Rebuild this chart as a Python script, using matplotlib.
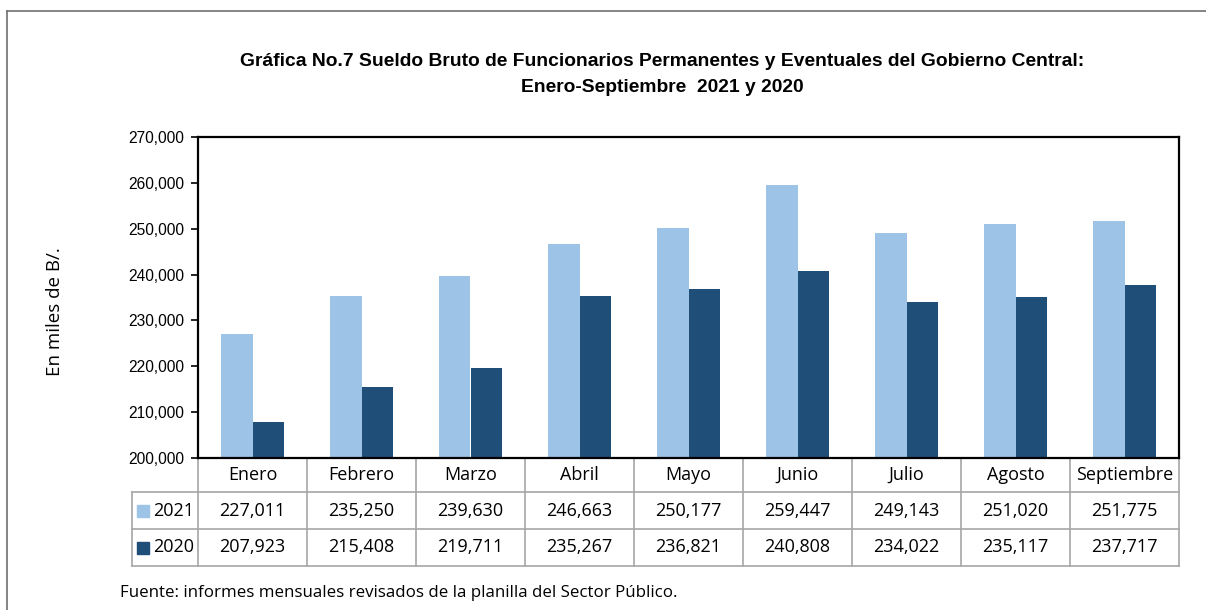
import matplotlib.pyplot as plt
from matplotlib.lines import Line2D
import matplotlib.transforms as mtransforms
from matplotlib.ticker import FuncFormatter

# ---------------- DATA ----------------

meses = ["Enero", "Febrero", "Marzo", "Abril", "Mayo", "Junio",
         "Julio", "Agosto", "Septiembre"]
sueldo_2021 = [227011, 235250, 239630, 246663, 250177, 259447, 249143, 251020, 251775]
sueldo_2020 = [207923, 215408, 219711, 235267, 236821, 240808, 234022, 235117, 237717]
series_labels = ["2021", "2020"]

color_2021 = "#9dc3e6"
color_2020 = "#1f4e79"
grid_color = "#a6a6a6"

title_font = ["Liberation Sans Narrow", "Liberation Sans", "DejaVu Sans"]
axis_font = ["Liberation Sans", "DejaVu Sans"]
table_font = ["Open Sans", "DejaVu Sans"]

# ---------------- FIGURE ----------------

fig = plt.figure(figsize=(12.06, 6.10), dpi=100)
ax = fig.add_axes([198 / 1206, 1 - 458 / 610, (1179 - 198) / 1206, (458 - 137) / 610])

x = list(range(len(meses)))
w = 0.285
ax.bar([i - w / 2 for i in x], sueldo_2021, width=w, color=color_2021, zorder=2)
ax.bar([i + w / 2 for i in x], sueldo_2020, width=w, color=color_2020, zorder=2)

ax.set_xlim(-0.5, len(meses) - 0.5)
ax.set_ylim(200000, 270000)
ax.set_yticks(range(200000, 270001, 10000))
ax.yaxis.set_major_formatter(FuncFormatter(lambda v, p: f"{int(v):,}"))
ax.set_xticks([])
for lab in ax.get_yticklabels():
    lab.set_family(axis_font)
    lab.set_fontsize(11.2)
ax.tick_params(axis="y", direction="out", length=5, width=1.2, pad=5)
for s in ax.spines.values():
    s.set_linewidth(1.6)
    s.set_color("black")

# ---------------- TABLE ----------------

trans = mtransforms.blended_transform_factory(ax.transData, ax.transAxes)
row_y = [0, -34 / 321, -71 / 321, -108 / 321]
legend_x = -0.5 - 66 / 109
right_x = len(meses) - 0.5


def hline(x0, x1, y):
    ax.add_line(Line2D([x0, x1], [y, y], transform=trans, color=grid_color,
                       lw=1.2, clip_on=False))


def vline(xv, y0, y1):
    ax.add_line(Line2D([xv, xv], [y0, y1], transform=trans, color=grid_color,
                       lw=1.2, clip_on=False))


hline(legend_x, right_x, row_y[1])
hline(legend_x, right_x, row_y[2])
hline(legend_x, right_x, row_y[3])
vline(legend_x, row_y[1], row_y[3])
for i in range(len(meses) + 1):
    vline(i - 0.5, row_y[0], row_y[3])

fs_tab = 13
for i, m in enumerate(meses):
    ax.text(i, (row_y[0] + row_y[1]) / 2, m, transform=trans, ha="center",
            va="center", family=table_font, fontsize=fs_tab)
    ax.text(i, (row_y[1] + row_y[2]) / 2, f"{sueldo_2021[i]:,}", transform=trans,
            ha="center", va="center", family=table_font, fontsize=fs_tab)
    ax.text(i, (row_y[2] + row_y[3]) / 2, f"{sueldo_2020[i]:,}", transform=trans,
            ha="center", va="center", family=table_font, fontsize=fs_tab)

for k, (lab, col) in enumerate(zip(series_labels, [color_2021, color_2020])):
    yc = (row_y[k + 1] + row_y[k + 2]) / 2
    ax.plot([legend_x + 0.1], [yc], transform=trans, marker="s", markersize=8,
            color=col, clip_on=False, linestyle="none")
    ax.text(legend_x + 0.19, yc, lab, transform=trans, ha="left", va="center",
            family=table_font, fontsize=fs_tab)

# ---------------- TEXTS ----------------

fig.text(662 / 1206, 1 - 62 / 610,
         "Gráfica No.7 Sueldo Bruto de Funcionarios Permanentes y Eventuales del Gobierno Central:",
         ha="center", va="center", fontsize=13.9, fontweight="bold", family=title_font)
fig.text(662 / 1206, 1 - 88 / 610, "Enero-Septiembre  2021 y 2020",
         ha="center", va="center", fontsize=13.9, fontweight="bold", family=title_font)

fig.text(55 / 1206, 1 - 312 / 610, "En miles de B/.", rotation=90, ha="center",
         va="center", fontsize=13.5, family=table_font)

fig.text(120 / 1206, 1 - 593 / 610,
         "Fuente: informes mensuales revisados de la planilla del Sector Público.",
         ha="left", va="center", fontsize=12.2, family=table_font)

# outer border of the chart
fig.add_artist(Line2D([7 / 1206, 1], [1 - 11 / 610, 1 - 11 / 610],
                      transform=fig.transFigure, color="#707070", lw=1.2))
fig.add_artist(Line2D([7 / 1206, 7 / 1206], [0, 1 - 11 / 610],
                      transform=fig.transFigure, color="#707070", lw=1.2))

fig.savefig("out.png", dpi=100)
